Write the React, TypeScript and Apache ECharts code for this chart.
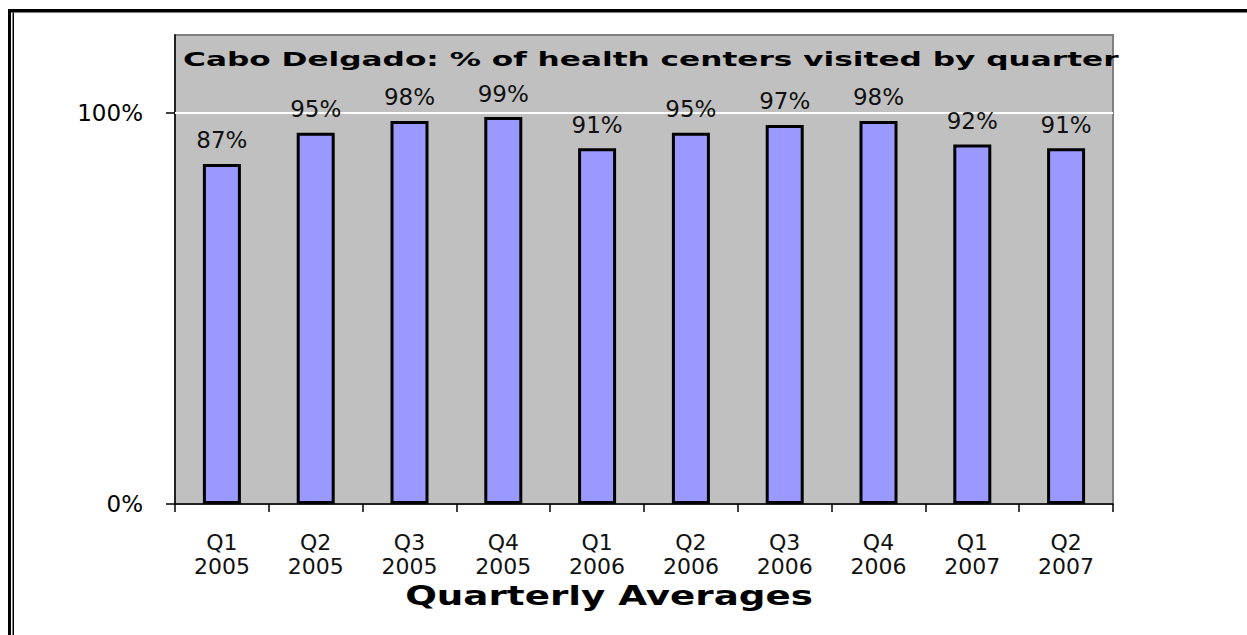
import React, { useEffect, useRef } from "react";
import * as echarts from "echarts";

const categories = [
  "Q1\n2005", "Q2\n2005", "Q3\n2005", "Q4\n2005", "Q1\n2006",
  "Q2\n2006", "Q3\n2006", "Q4\n2006", "Q1\n2007", "Q2\n2007",
];
const visitedShare = [0.87, 0.95, 0.98, 0.99, 0.91, 0.95, 0.97, 0.98, 0.92, 0.91];
const yTickValues = [0, 1];
const titleText = "Cabo Delgado: % of health centers visited by quarter";
const xAxisTitle = "Quarterly Averages";

const FONT = "DejaVu Sans";

export default function App() {
  const ref = useRef<HTMLDivElement>(null);
  useEffect(() => {
    if (!ref.current) return;
    const chart = echarts.init(ref.current, null, { renderer: "svg" });
    chart.setOption({
      animation: false,
      backgroundColor: "#ffffff",
      grid: {
        left: 175,
        top: 35,
        right: 134,
        bottom: 131,
        show: true,
        backgroundColor: "#C0C0C0",
        borderColor: "#808080",
        borderWidth: 2,
        containLabel: false,
      },
      xAxis: {
        type: "category",
        data: categories,
        axisLine: { show: true, lineStyle: { color: "#000", width: 1.5 } },
        axisTick: { show: true, length: 8, interval: 0, lineStyle: { color: "#000", width: 1.5 } },
        axisLabel: {
          interval: 0,
          margin: 26,
          fontFamily: FONT,
          fontSize: 22,
          lineHeight: 24,
          color: "#111",
        },
        splitLine: { show: false },
      },
      yAxis: {
        type: "value",
        min: 0,
        max: 1.2,
        axisLine: { show: true, lineStyle: { color: "#000", width: 1.5 } },
        axisTick: {
          show: true,
          length: 9,
          customValues: yTickValues,
          lineStyle: { color: "#000", width: 1.5 },
        },
        axisLabel: {
          customValues: yTickValues,
          margin: 32,
          fontFamily: FONT,
          fontSize: 23,
          color: "#000",
          formatter: (v: number) => `${Math.round(v * 100)}%`,
        },
        splitLine: { show: false },
      },
      series: [
        {
          type: "bar",
          data: visitedShare,
          barWidth: 38,
          itemStyle: { color: "#9999FF", borderColor: "#000", borderWidth: 3 },
          label: {
            show: true,
            position: "top",
            distance: 12,
            fontFamily: FONT,
            fontSize: 23,
            color: "#111",
            formatter: (p: any) => `${Math.round(p.value * 100)}%`,
          },
          markLine: {
            silent: true,
            symbol: "none",
            label: { show: false },
            lineStyle: { color: "#ffffff", width: 2, type: "solid" },
            data: [{ yAxis: 1 }],
            z: 1,
          },
        },
      ],
      graphic: [
        { type: "rect", shape: { x: 8, y: 9, width: 1239, height: 3.5 }, style: { fill: "#000" } },
        { type: "rect", shape: { x: 8, y: 9, width: 3, height: 626 }, style: { fill: "#000" } },
        { type: "rect", shape: { x: 12.5, y: 12.5, width: 1.5, height: 623 }, style: { fill: "#000" } },
        {
          type: "text",
          x: 183,
          y: 59,
          scaleX: 1.56,
          z: 100,
          style: {
            text: titleText,
            fontFamily: FONT,
            fontSize: 20,
            fontWeight: "bold",
            fill: "#000",
            align: "left",
            verticalAlign: "middle",
          },
        },
        {
          type: "text",
          x: 609,
          y: 596,
          scaleX: 1.38,
          z: 100,
          style: {
            text: xAxisTitle,
            fontFamily: FONT,
            fontSize: 27,
            fontWeight: "bold",
            fill: "#000",
            align: "center",
            verticalAlign: "middle",
          },
        },
      ],
    });
    return () => chart.dispose();
  }, []);
  return (
    <div
      ref={ref}
      style={{ position: "fixed", left: 0, top: 0, width: 1247, height: 635 }}
    />
  );
}
